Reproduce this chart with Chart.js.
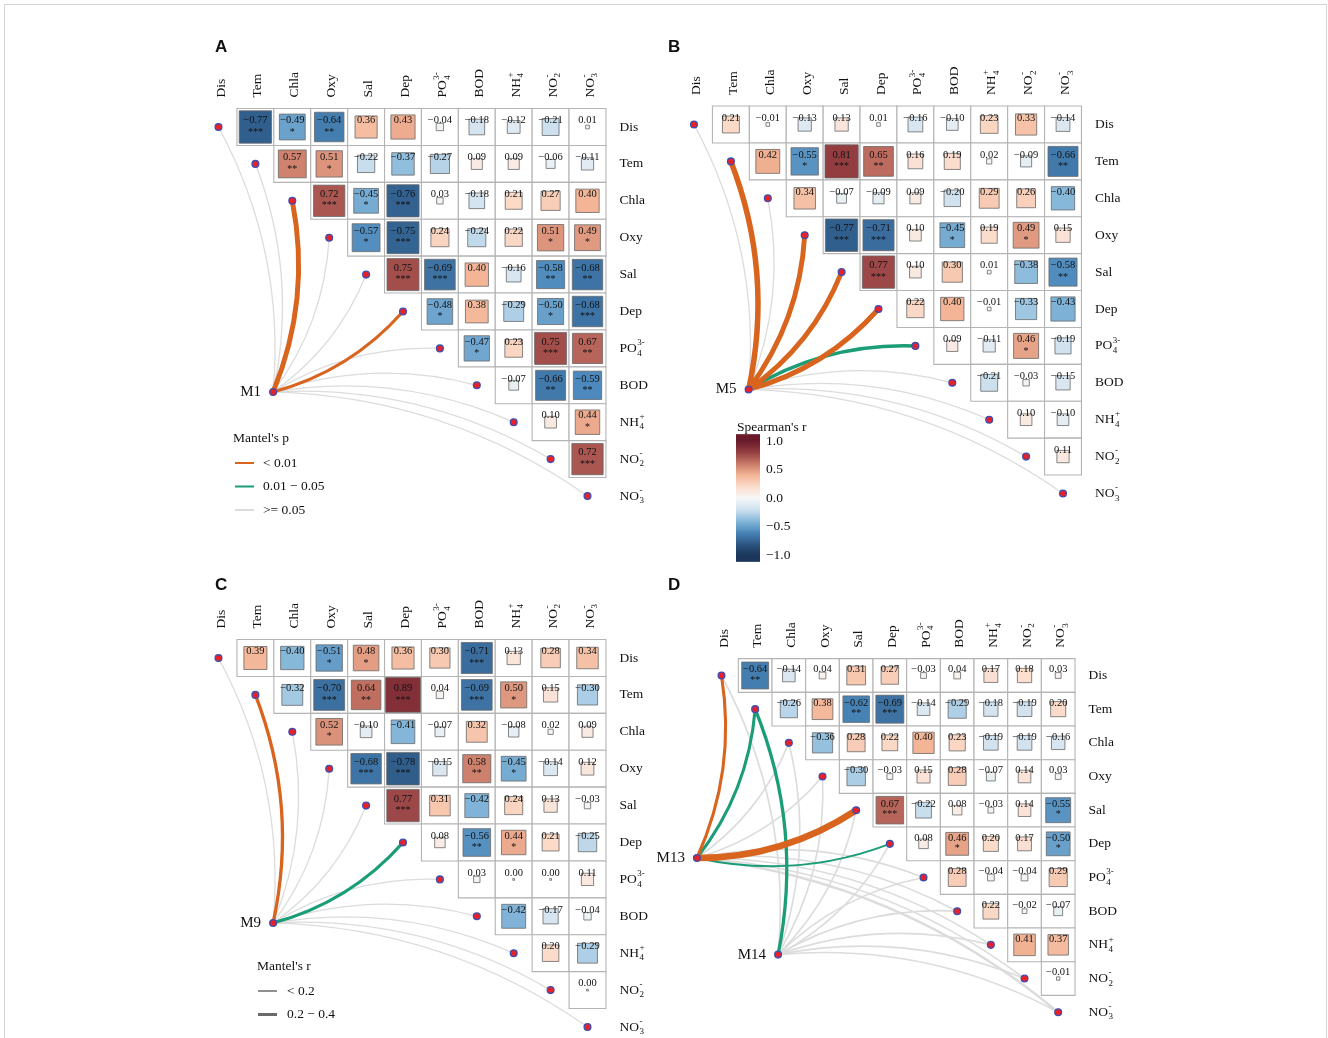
<!DOCTYPE html>
<html lang="en">
<head>
<meta charset="UTF-8">
<title>Spearman correlation and Mantel test</title>
<script src="https://cdn.jsdelivr.net/npm/chart.js"></script>
<style>
  html, body { margin: 0; padding: 0; background: #fff; }
  #page { position: relative; width: 1328px; height: 1038px; overflow: hidden; }
  #frame { position: absolute; left: 4px; top: 4px; width: 1321px; height: 1060px; border: 1px solid #d4d4d4; }
  canvas { position: absolute; }
</style>
</head>
<body>
<div id="page">
  <div id="frame"></div>
  <canvas id="chartA"></canvas>
  <canvas id="chartB"></canvas>
  <canvas id="chartC"></canvas>
  <canvas id="chartD"></canvas>
</div>

<script>
const vars = ['Dis', 'Tem', 'Chla', 'Oxy', 'Sal', 'Dep', 'PO4', 'BOD', 'NH4', 'NO2', 'NO3'];

// Spearman's r, upper triangle: row i holds columns i+1 .. 10
const corrA = [
  [-0.77, -0.49, -0.64, 0.36, 0.43, -0.04, -0.18, -0.12, -0.21, 0.01],
  [0.57, 0.51, -0.22, -0.37, -0.27, 0.09, 0.09, -0.06, -0.11],
  [0.72, -0.45, -0.76, 0.03, -0.18, 0.21, 0.27, 0.40],
  [-0.57, -0.75, 0.24, -0.24, 0.22, 0.51, 0.49],
  [0.75, -0.69, 0.40, -0.16, -0.58, -0.68],
  [-0.48, 0.38, -0.29, -0.50, -0.68],
  [-0.47, 0.23, 0.75, 0.67],
  [-0.07, -0.66, -0.59],
  [0.10, 0.44],
  [0.72]
];
const starsA = [
  [3, 1, 2, 0, 0, 0, 0, 0, 0, 0],
  [2, 1, 0, 0, 0, 0, 0, 0, 0],
  [3, 1, 3, 0, 0, 0, 0, 0],
  [1, 3, 0, 0, 0, 1, 1],
  [3, 3, 0, 0, 2, 2],
  [1, 0, 0, 1, 3],
  [1, 0, 3, 2],
  [0, 2, 2],
  [0, 1],
  [3]
];

const corrB = [
  [0.21, -0.01, -0.13, 0.13, 0.01, -0.16, -0.10, 0.23, 0.33, -0.14],
  [0.42, -0.55, 0.81, 0.65, 0.16, 0.19, 0.02, -0.09, -0.66],
  [0.34, -0.07, -0.09, 0.09, -0.20, 0.29, 0.26, -0.40],
  [-0.77, -0.71, 0.10, -0.45, 0.19, 0.49, 0.15],
  [0.77, 0.10, 0.30, 0.01, -0.38, -0.58],
  [0.22, 0.40, -0.01, -0.33, -0.43],
  [0.09, -0.11, 0.46, -0.19],
  [-0.21, -0.03, -0.15],
  [0.10, -0.10],
  [0.11]
];
const starsB = [
  [0, 0, 0, 0, 0, 0, 0, 0, 0, 0],
  [0, 1, 3, 2, 0, 0, 0, 0, 2],
  [0, 0, 0, 0, 0, 0, 0, 0],
  [3, 3, 0, 1, 0, 1, 0],
  [3, 0, 0, 0, 0, 2],
  [0, 0, 0, 0, 0],
  [0, 0, 1, 0],
  [0, 0, 0],
  [0, 0],
  [0]
];

const corrC = [
  [0.39, -0.40, -0.51, 0.48, 0.36, 0.30, -0.71, 0.13, 0.28, 0.34],
  [-0.32, -0.70, 0.64, 0.89, 0.04, -0.69, 0.50, 0.15, -0.30],
  [0.52, -0.10, -0.41, -0.07, 0.32, -0.08, 0.02, 0.09],
  [-0.68, -0.78, -0.15, 0.58, -0.45, -0.14, 0.12],
  [0.77, 0.31, -0.42, 0.24, 0.13, -0.03],
  [0.08, -0.56, 0.44, 0.21, -0.25],
  [0.03, 0.00, 0.00, 0.11],
  [-0.42, -0.17, -0.04],
  [0.20, -0.29],
  [0.00]
];
const starsC = [
  [0, 0, 1, 1, 0, 0, 3, 0, 0, 0],
  [0, 3, 2, 3, 0, 3, 1, 0, 0],
  [1, 0, 0, 0, 0, 0, 0, 0],
  [3, 3, 0, 2, 1, 0, 0],
  [3, 0, 0, 0, 0, 0],
  [0, 2, 1, 0, 0],
  [0, 0, 0, 0],
  [0, 0, 0],
  [0, 0],
  [0]
];

const corrD = [
  [-0.64, -0.14, 0.04, 0.31, 0.27, -0.03, 0.04, 0.17, 0.18, 0.03],
  [-0.26, 0.38, -0.62, -0.69, -0.14, -0.29, -0.18, -0.19, 0.20],
  [-0.36, 0.28, 0.22, 0.40, 0.23, -0.19, -0.19, -0.16],
  [-0.30, -0.03, 0.15, 0.28, -0.07, 0.14, 0.03],
  [0.67, -0.22, 0.08, -0.03, 0.14, -0.55],
  [0.08, 0.46, 0.20, 0.17, -0.50],
  [0.28, -0.04, -0.04, 0.29],
  [0.22, -0.02, -0.07],
  [0.41, 0.37],
  [-0.01]
];
const starsD = [
  [2, 0, 0, 0, 0, 0, 0, 0, 0, 0],
  [0, 0, 2, 3, 0, 0, 0, 0, 0],
  [0, 0, 0, 0, 0, 0, 0, 0],
  [0, 0, 0, 0, 0, 0, 0],
  [3, 0, 0, 0, 0, 1],
  [0, 1, 0, 0, 1],
  [0, 0, 0, 0],
  [0, 0, 0],
  [0, 0],
  [0]
];

// Mantel test of each group against every variable
// p class: 0 = < 0.01, 1 = 0.01 - 0.05, 2 = >= 0.05 ; r = Mantel's r
const mantelP_M1 = [2, 2, 0, 2, 2, 0, 2, 2, 2, 2, 2];
const mantelR_M1 = [0.12, 0.12, 0.45, 0.12, 0.12, 0.28, 0.12, 0.12, 0.12, 0.12, 0.12];
const mantelP_M5 = [2, 0, 2, 0, 0, 0, 1, 2, 2, 2, 2];
const mantelR_M5 = [0.12, 0.5, 0.12, 0.45, 0.45, 0.45, 0.32, 0.12, 0.12, 0.12, 0.12];
const mantelP_M9 = [2, 0, 2, 2, 2, 1, 2, 2, 2, 2, 2];
const mantelR_M9 = [0.12, 0.3, 0.12, 0.12, 0.12, 0.3, 0.12, 0.12, 0.12, 0.12, 0.12];
const mantelP_M13 = [0, 1, 2, 2, 0, 1, 2, 2, 2, 2, 2];
const mantelR_M13 = [0.28, 0.28, 0.15, 0.15, 0.6, 0.18, 0.15, 0.15, 0.15, 0.15, 0.22];
const mantelP_M14 = [2, 1, 2, 2, 2, 2, 2, 2, 2, 2, 2];
const mantelR_M14 = [0.15, 0.3, 0.15, 0.15, 0.15, 0.15, 0.15, 0.15, 0.15, 0.15, 0.15];

// colour bar ticks
const barTicks = [1, 0.5, 0, -0.5, -1];

const pColors = ['#d8641e', '#1b9e77', '#dcdcdc'];
const serif = '"Liberation Serif", "Times New Roman", serif';
const chem = { PO4: ['PO', '4', '3-'], NH4: ['NH', '4', '+'], NO2: ['NO', '2', '-'], NO3: ['NO', '3', '-'] };

// muted RdBu palette as seen in the figure
const stops = [
  [-1.0, [27, 54, 90]], [-0.8, [45, 88, 133]], [-0.6, [74, 135, 186]], [-0.4, [134, 184, 218]],
  [-0.2, [208, 226, 239]], [0.0, [247, 247, 247]], [0.2, [251, 220, 203]], [0.4, [243, 181, 150]],
  [0.6, [201, 122, 103]], [0.8, [149, 63, 66]], [1.0, [106, 27, 43]]
];
function corrColor(v) {
  v = Math.max(-1, Math.min(1, v));
  for (let i = 1; i < stops.length; i++) {
    if (v <= stops[i][0]) {
      const a = stops[i - 1], b = stops[i], t = (v - a[0]) / (b[0] - a[0]);
      const c = a[1].map((x, k) => Math.round(x + (b[1][k] - x) * t));
      return 'rgb(' + c.join(',') + ')';
    }
  }
  return 'rgb(106,27,43)';
}

function cellPx(chart) {
  const s = chart.scales.x;
  return Math.abs(s.getPixelForValue(1) - s.getPixelForValue(0));
}

function fmt(v, d) {
  const s = Math.abs(v).toFixed(d);
  return v < 0 ? '\u2212' + s : s;
}

// left aligned, middle baseline; chemical names get sub- and superscripts
function drawLabel(ctx, name, x, y, size) {
  const parts = chem[name];
  ctx.font = size + 'px ' + serif;
  if (!parts) { ctx.fillText(name, x, y); return; }
  ctx.fillText(parts[0], x, y);
  const w = ctx.measureText(parts[0]).width;
  ctx.font = Math.round(size * 0.66) + 'px ' + serif;
  ctx.fillText(parts[2], x + w + 0.5, y - size * 0.42);
  ctx.fillText(parts[1], x + w + 0.5, y + size * 0.36);
}

const decor = {
  id: 'decor',
  beforeDatasetsDraw(chart, args, o) {
    const ctx = chart.ctx, sx = chart.scales.x, sy = chart.scales.y;
    const segs = [];
    o.nodes.forEach(nd => vars.forEach((v, i) => segs.push({ nd: nd, i: i, p: nd.p[i], r: nd.r[i] })));
    segs.sort((a, b) => b.p - a.p);
    ctx.save();
    ctx.lineCap = 'butt';
    segs.forEach(s => {
      const x1 = sx.getPixelForValue(s.nd.x), y1 = sy.getPixelForValue(s.nd.y);
      const x2 = sx.getPixelForValue(s.i), y2 = sy.getPixelForValue(s.i);
      const dx = x2 - x1, dy = y2 - y1;
      const k = (s.i <= 5 ? -1 : 1) * 0.15;
      ctx.beginPath();
      ctx.moveTo(x1, y1);
      ctx.quadraticCurveTo((x1 + x2) / 2 + dy * k, (y1 + y2) / 2 - dx * k, x2, y2);
      ctx.strokeStyle = pColors[s.p];
      ctx.lineWidth = Math.max(1.2, s.r * 11);
      ctx.stroke();
    });
    ctx.restore();
  },
  afterDatasetsDraw(chart, args, o) {
    const ctx = chart.ctx, sx = chart.scales.x, sy = chart.scales.y;
    const u = cellPx(chart), f = u / 36.9;
    const meta = chart.getDatasetMeta(1);
    const cells = chart.data.datasets[1].data;
    ctx.save();
    ctx.fillStyle = '#111';
    ctx.textAlign = 'center';
    ctx.textBaseline = 'middle';
    meta.data.forEach((el, k) => {
      const c = cells[k];
      ctx.font = o.valueSize + 'px ' + serif;
      ctx.fillText(fmt(c.r, 2), el.x, el.y - 6.5 * f);
      if (c.s) {
        ctx.font = (o.valueSize - 0.5) + 'px ' + serif;
        ctx.fillText('*'.repeat(c.s), el.x, el.y + 5 * f);
      }
    });

    // column headers (rotated) and row labels
    ctx.textAlign = 'left';
    const gridTop = sy.getPixelForValue(0) - u / 2;
    const gridRight = sx.getPixelForValue(vars.length - 1) + u / 2;
    vars.forEach((v, i) => {
      ctx.save();
      ctx.translate(sx.getPixelForValue(i) + 2.5, gridTop - 11);
      ctx.rotate(-Math.PI / 2);
      drawLabel(ctx, v, 0, 0, 13.5);
      ctx.restore();
      drawLabel(ctx, v, gridRight + 13.5, sy.getPixelForValue(i), 13.5);
    });

    // group names
    ctx.textAlign = 'right';
    ctx.font = '15px ' + serif;
    o.nodes.forEach(nd => ctx.fillText(nd.name, sx.getPixelForValue(nd.x) - 12, sy.getPixelForValue(nd.y)));

    // panel letter
    const L = o.left, T = o.top;
    ctx.textAlign = 'left';
    ctx.font = 'bold 17px "Liberation Sans", Arial, sans-serif';
    ctx.fillText(o.letter, o.letterPos[0] - L, o.letterPos[1] - T);

    ctx.font = '13.5px ' + serif;
    if (o.legend === 'p') {
      const g = o.legendPos;
      ctx.fillText("Mantel's p", g[0] - L, g[1] - T);
      ['< 0.01', '0.01 \u2212 0.05', '>= 0.05'].forEach((t, i) => {
        const y = g[1] - T + 25 + i * 23.5;
        ctx.strokeStyle = pColors[i];
        ctx.lineWidth = 2;
        ctx.beginPath(); ctx.moveTo(g[0] - L + 2, y); ctx.lineTo(g[0] - L + 21, y); ctx.stroke();
        ctx.fillText(t, g[0] - L + 30, y);
      });
    }
    if (o.legend === 'r') {
      const g = o.legendPos;
      ctx.fillText("Mantel's r", g[0] - L, g[1] - T);
      ['< 0.2', '0.2 \u2212 0.4'].forEach((t, i) => {
        const y = g[1] - T + 25 + i * 23.5;
        ctx.strokeStyle = '#6a6a6a';
        ctx.lineWidth = i ? 3 : 1.5;
        ctx.beginPath(); ctx.moveTo(g[0] - L + 1, y); ctx.lineTo(g[0] - L + 20, y); ctx.stroke();
        ctx.fillText(t, g[0] - L + 30, y);
      });
    }
    if (o.legend === 'bar') {
      const g = o.legendPos;   // left, y of +1, y of -1
      const bx = g[0] - L, y1 = g[1] - T, y0 = g[2] - T;
      const yv = v => y0 + (v + 1) / 2 * (y1 - y0);
      const top = yv(1.12), bot = yv(-1.12);
      const grad = ctx.createLinearGradient(0, top, 0, bot);
      for (let k = 0; k <= 40; k++) grad.addColorStop(k / 40, corrColor(1.12 - k * 2.24 / 40));
      ctx.fillStyle = grad;
      ctx.fillRect(bx, top, 24, bot - top);
      ctx.fillStyle = '#111';
      ctx.fillText("Spearman's r", bx + 1, top - 7);
      barTicks.forEach(v => ctx.fillText(fmt(v, 1), bx + 30, yv(v)));
    }
    ctx.restore();
  }
};

function makePanel(P) {
  const cells = [];
  P.corr.forEach((row, i) => row.forEach((r, k) => cells.push({ x: i + 1 + k, y: i, r: r, s: P.stars[i][k] })));
  const dots = P.nodes.map(n => ({ x: n.x, y: n.y })).concat(vars.map((v, i) => ({ x: i, y: i })));
  const canvas = document.getElementById(P.id);
  canvas.width = P.width;
  canvas.height = P.height;
  canvas.style.left = P.left + 'px';
  canvas.style.top = P.top + 'px';
  const xmin = (P.left - P.x0) / P.unit, ymin = (P.top - P.y0) / P.unit;
  return new Chart(canvas, {
    type: 'scatter',
    data: {
      datasets: [
        { data: dots, order: 0, pointStyle: 'circle', pointRadius: 3.4,
          pointBackgroundColor: '#e8202a', pointBorderColor: '#3d4fb0', pointBorderWidth: 1.3 },
        { data: cells, order: 1, pointStyle: 'rect',
          pointRadius: c => c.raw ? Math.max(1.3, cellPx(c.chart) * Math.sqrt(Math.abs(c.raw.r)) / Math.SQRT2) : 2,
          pointBackgroundColor: c => c.raw ? corrColor(c.raw.r) : '#fff',
          pointBorderColor: 'rgba(105,105,105,0.8)', pointBorderWidth: 1 },
        { data: cells, order: 2, pointStyle: 'rect',
          pointRadius: c => cellPx(c.chart) / Math.SQRT2,
          pointBackgroundColor: '#ffffff', pointBorderColor: '#b4b4b4', pointBorderWidth: 1.1 }
      ]
    },
    options: {
      responsive: false,
      maintainAspectRatio: false,
      animation: false,
      events: [],
      layout: { padding: 0, autoPadding: false },
      scales: {
        x: { type: 'linear', display: false, bounds: 'data', min: xmin, max: xmin + P.width / P.unit },
        y: { type: 'linear', display: false, bounds: 'data', reverse: true, min: ymin, max: ymin + P.height / P.unit }
      },
      plugins: {
        legend: { display: false },
        tooltip: { enabled: false },
        decor: {
          nodes: P.nodes, letter: P.letter, letterPos: P.letterPos, legend: P.legend, legendPos: P.legendPos,
          left: P.left, top: P.top, valueSize: P.valueSize
        }
      }
    },
    plugins: [decor]
  });
}

makePanel({
  id: 'chartA', letter: 'A', letterPos: [215, 47], corr: corrA, stars: starsA,
  left: 180, top: 30, width: 470, height: 545, x0: 218.5, y0: 127, unit: 36.9, valueSize: 10.5,
  nodes: [{ name: 'M1', x: 1.48, y: 7.18, p: mantelP_M1, r: mantelR_M1 }],
  legend: 'p', legendPos: [233, 438]
});
makePanel({
  id: 'chartB', letter: 'B', letterPos: [668, 47], corr: corrB, stars: starsB,
  left: 655, top: 30, width: 470, height: 545, x0: 694, y0: 124.5, unit: 36.9, valueSize: 10.5,
  nodes: [{ name: 'M5', x: 1.48, y: 7.18, p: mantelP_M5, r: mantelR_M5 }],
  legend: 'bar', legendPos: [736, 441, 555]
});
makePanel({
  id: 'chartC', letter: 'C', letterPos: [215, 585], corr: corrC, stars: starsC,
  left: 180, top: 575, width: 470, height: 463, x0: 218.5, y0: 658, unit: 36.9, valueSize: 10.5,
  nodes: [{ name: 'M9', x: 1.48, y: 7.18, p: mantelP_M9, r: mantelR_M9 }],
  legend: 'r', legendPos: [257, 966]
});
makePanel({
  id: 'chartD', letter: 'D', letterPos: [668, 585], corr: corrD, stars: starsD,
  left: 640, top: 575, width: 485, height: 463, x0: 721.5, y0: 675.5, unit: 33.67, valueSize: 10.5,
  nodes: [
    { name: 'M13', x: -0.73, y: 5.42, p: mantelP_M13, r: mantelR_M13 },
    { name: 'M14', x: 1.68, y: 8.29, p: mantelP_M14, r: mantelR_M14 }
  ],
  legend: null, legendPos: null
});
</script>
</body>
</html>
